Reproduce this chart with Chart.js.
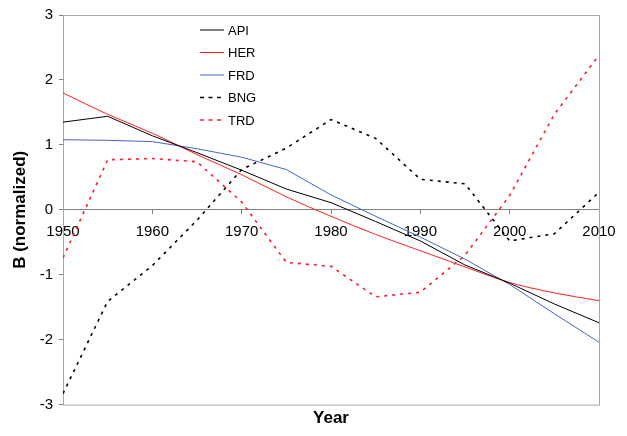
<!DOCTYPE html>
<html>
<head>
<meta charset="utf-8">
<script src="https://cdn.jsdelivr.net/npm/chart.js@4"></script>
<style>
html,body{margin:0;padding:0;background:#fff;}
#wrap{width:627px;height:436px;}
</style>
</head>
<body>
<div id="wrap"><canvas id="c" width="627" height="436"></canvas></div>
<script>
const years = [1950, 1955, 1960, 1965, 1970, 1975, 1980, 1985, 1990, 1995, 2000, 2005, 2010];
const api = [1.35, 1.44, 1.14, 0.88, 0.61, 0.32, 0.11, -0.18, -0.48, -0.85, -1.13, -1.45, -1.74];
const her = [1.80, 1.47, 1.18, 0.85, 0.54, 0.20, -0.10, -0.38, -0.63, -0.88, -1.12, -1.28, -1.40];
const frd = [1.08, 1.07, 1.05, 0.94, 0.81, 0.62, 0.23, -0.10, -0.42, -0.76, -1.15, -1.60, -2.04];
const bng = [-2.83, -1.41, -0.86, -0.16, 0.62, 0.95, 1.39, 1.10, 0.47, 0.40, -0.48, -0.37, 0.27];
const trd = [-0.74, 0.77, 0.79, 0.74, 0.12, -0.81, -0.87, -1.34, -1.27, -0.70, 0.22, 1.47, 2.38];
const seriesNames = ['API', 'HER', 'FRD', 'BNG', 'TRD'];
const xTicks = [1950, 1960, 1970, 1980, 1990, 2000, 2010];
const yTicks = [-3, -2, -1, 0, 1, 2, 3];

const FONT = '"Liberation Sans", Arial, sans-serif';
const toXY = arr => years.map((x, i) => ({x, y: arr[i]}));

const boxPlugin = {
  id: 'box',
  beforeDatasetsDraw(chart) {
    const {ctx, chartArea: a} = chart;
    ctx.save();
    ctx.strokeStyle = '#a6a6a6';
    ctx.lineWidth = 1;
    ctx.strokeRect(a.left + 0.5, a.top + 0.5, a.right - a.left, a.bottom - a.top);
    ctx.restore();
  }
};

const legendPlugin = {
  id: 'inlegend',
  afterDatasetsDraw(chart) {
    const ctx = chart.ctx;
    ctx.save();
    chart.data.datasets.forEach((ds, i) => {
      const y = 30 + i * 22.5;
      ctx.beginPath();
      ctx.strokeStyle = ds.borderColor;
      ctx.lineWidth = ds.borderWidth;
      ctx.setLineDash(ds.borderDash ? [4, 4.5] : []);
      ctx.moveTo(200, y);
      ctx.lineTo(224, y);
      ctx.stroke();
      ctx.setLineDash([]);
      ctx.fillStyle = '#000';
      ctx.font = '13px ' + FONT;
      ctx.textBaseline = 'middle';
      ctx.textAlign = 'left';
      ctx.fillText(ds.label, 228, y + 1);
    });
    ctx.restore();
  }
};

new Chart(document.getElementById('c'), {
  type: 'line',
  data: {
    datasets: [
      {label: seriesNames[0], data: toXY(api), borderColor: '#000000', borderWidth: 1},
      {label: seriesNames[1], data: toXY(her), borderColor: '#ff2020', borderWidth: 1, cubicInterpolationMode: 'monotone'},
      {label: seriesNames[2], data: toXY(frd), borderColor: '#4466c4', borderWidth: 1},
      {label: seriesNames[3], data: toXY(bng), borderColor: '#000000', borderWidth: 1.6, borderDash: [3, 5]},
      {label: seriesNames[4], data: toXY(trd), borderColor: '#ff1a2e', borderWidth: 1.6, borderDash: [3, 5]}
    ]
  },
  options: {
    responsive: false,
    animation: false,
    elements: {point: {radius: 0}, line: {tension: 0}},
    layout: {padding: {top: 10, right: 28, bottom: 7, left: 0}},
    plugins: {
      legend: {display: false},
      tooltip: {enabled: false},
      title: {
        display: true, position: 'bottom', text: 'Year', fullSize: false,
        color: '#000', font: {family: FONT, size: 17, weight: 'bold'},
        padding: {top: 4, bottom: 0}
      }
    },
    scales: {
      x: {
        type: 'linear', min: 1950, max: 2010,
        position: {y: 0},
        afterBuildTicks: s => { s.ticks = xTicks.map(v => ({value: v})); },
        ticks: {color: '#000', font: {family: FONT, size: 15}, padding: 9, maxRotation: 0, callback: v => String(v)},
        grid: {drawOnChartArea: false, drawTicks: true, tickLength: 4, color: '#808080'},
        border: {color: '#808080'}
      },
      y: {
        min: -3, max: 3,
        afterBuildTicks: s => { s.ticks = yTicks.map(v => ({value: v})); },
        afterFit: s => { s.width = 63; },
        ticks: {color: '#000', font: {family: FONT, size: 15}, padding: 6},
        grid: {drawOnChartArea: false, drawTicks: true, tickLength: 4, color: '#808080'},
        border: {color: '#808080'},
        title: {display: true, text: 'B (normalized)', color: '#000', font: {family: FONT, size: 17, weight: 'bold'}, padding: {top: 10, bottom: 0}}
      }
    }
  },
  plugins: [boxPlugin, legendPlugin]
});
</script>
</body>
</html>
